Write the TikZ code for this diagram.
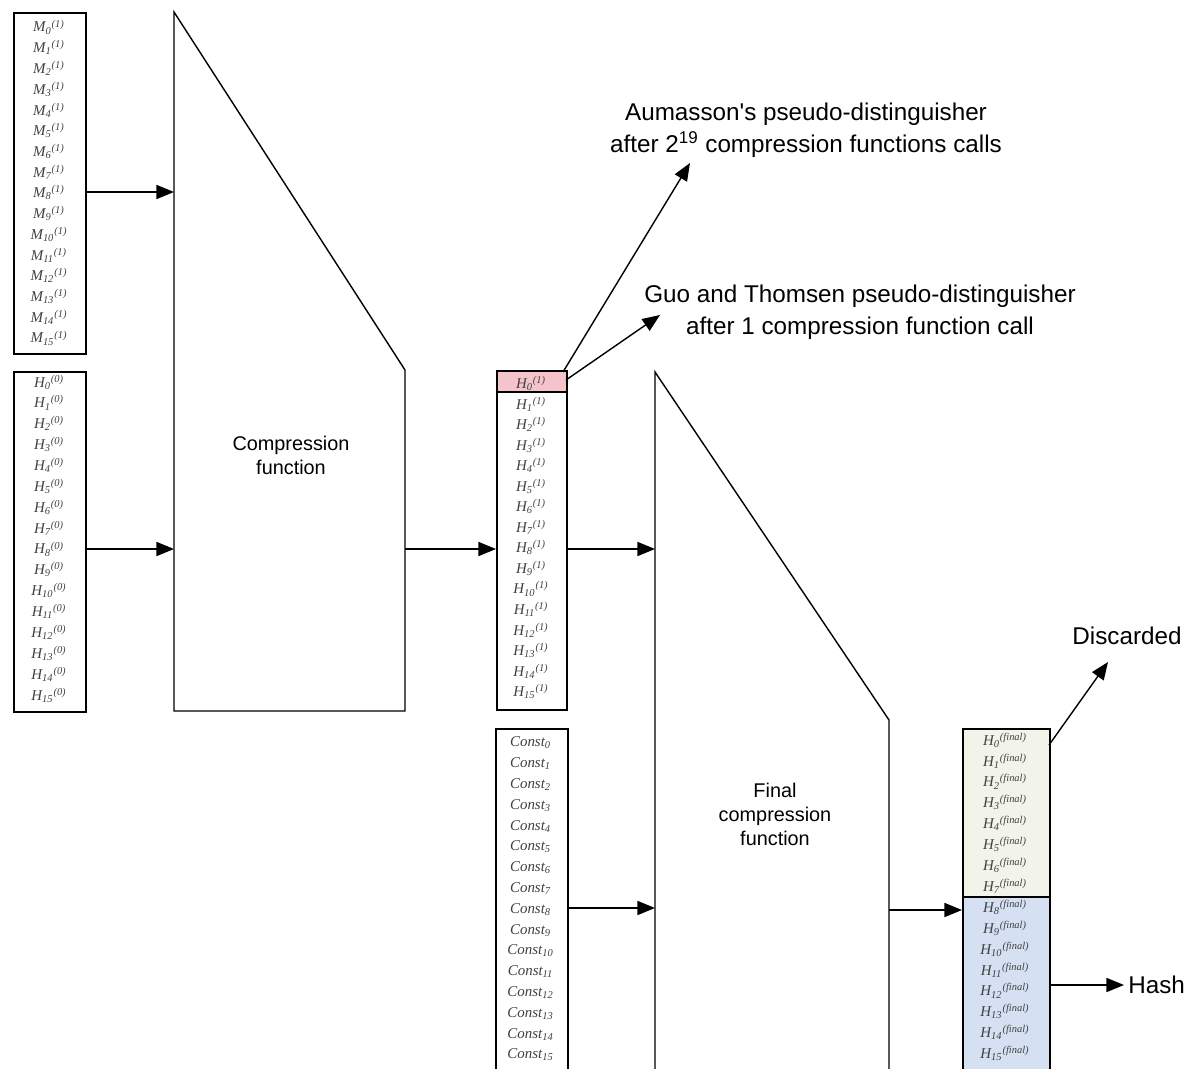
\documentclass[tikz,border=0pt]{standalone}
\usepackage{fontspec}
\setmainfont{Liberation Serif}
\newfontfamily\labelfont{Liberation Sans}
\usetikzlibrary{arrows.meta}

\definecolor{hpink}{HTML}{F4C4CA}
\definecolor{hkeep}{HTML}{D5E1F2}
\definecolor{hdrop}{HTML}{F2F4EA}

\newcommand{\regcell}[3]{#1\textsubscript{#2}\textsuperscript{#3}}

\tikzset{
	regbox/.style={draw, line width=1pt, inner sep=0pt, anchor=north west},
	cell/.style={font=\fontsize{8.5}{9}\selectfont\itshape, inner sep=0pt, text=black!75},
	lbl/.style={font=\labelfont\fontsize{13.8}{18.5}\selectfont, align=center, inner sep=0pt},
	fnlbl/.style={font=\labelfont\fontsize{11.3}{13.6}\selectfont, align=center, inner sep=0pt},
	flow/.style={-{Triangle[length=10pt,width=8pt]}, line width=0.8pt},
	trap/.style={line width=0.8pt}
}

\begin{document}
\begin{tikzpicture}[x=0.02cm, y=-0.02cm]
	\clip (0,0) rectangle (1189,1068);

	% register boxes
	\node[regbox, minimum width=1.44cm, minimum height=6.82cm] (M) at (13,12) {};
	\node[regbox, minimum width=1.44cm, minimum height=6.80cm] (H) at (13,371) {};
	\fill[hpink] (496,370) rectangle (566,392);
	\draw[line width=1pt] (496,392) -- (566,392);
	\node[regbox, minimum width=1.40cm, minimum height=6.78cm] (H1) at (496,370) {};
	\node[regbox, minimum width=1.44cm, minimum height=7.2cm] (C) at (495,728) {};
	\fill[hdrop] (962,728) rectangle (1049,897);
	\fill[hkeep] (962,897) rectangle (1049,1080);
	\draw[line width=1pt] (962,897) -- (1049,897);
	\node[regbox, minimum width=1.74cm, minimum height=7.2cm] (F) at (962,728) {};

	% register contents
	\foreach \i in {0,...,15} {
		\node[cell] (m\i) at (49,27+\i*20.73) {\regcell{M}{\i}{(1)}};
		\node[cell] (h\i) at (49,382+\i*20.87) {\regcell{H}{\i}{(0)}};
		\node[cell] (ha\i) at (531,383.5+\i*20.54) {\regcell{H}{\i}{(1)}};
		\node[cell] (c\i) at (531,743+\i*20.8) {\regcell{Const}{\i}{}};
		\node[cell] (f\i) at (1005,740+\i*20.9) {\regcell{H}{\i}{(final)}};
	}

	% compression functions
	\draw[trap] (174,12) -- (174,711) -- (405,711) -- (405,370) -- cycle;
	\node[fnlbl] (cf) at (291,455) {Compression\\function};
	\draw[trap] (655,1080) -- (655,372) -- (889,720) -- (889,1080);
	\node[fnlbl] (ff) at (775,814) {Final\\compression\\function};

	\coordinate (cfm) at (174,192);
	\coordinate (cfh) at (174,549);
	\coordinate (cfout) at (405,549);
	\coordinate (ffh) at (655,549);
	\coordinate (ffc) at (655,908);
	\coordinate (ffout) at (889,910);

	\draw[flow] (M.east |- cfm) -- (cfm);
	\draw[flow] (H.east |- cfh) -- (cfh);
	\draw[flow] (cfout) -- (cfout -| H1.west);
	\draw[flow] (H1.east |- ffh) -- (ffh);
	\draw[flow] (C.east |- ffc) -- (ffc);
	\draw[flow] (ffout) -- (ffout -| F.west);

	% outputs and attacks
	\node[lbl] (aum) at (806,130) {Aumasson's pseudo-distinguisher\\after 2\textsuperscript{19} compression functions calls};
	\node[lbl] (guo) at (860,312) {Guo and Thomsen pseudo-distinguisher\\after 1 compression function call};
	\node[lbl] (disc) at (1127,636) {Discarded};
	\node[lbl, anchor=west] (hash) at (1128,985) {Hash};

	\coordinate (aumtip) at (690,163);
	\coordinate (guotip) at (660,315);
	\coordinate (disctip) at (1108,662);
	\coordinate (fdisc) at (1049,745);

	\draw[flow] (563,372) -- (aumtip);
	\draw[flow] (566,380) -- (guotip);
	\draw[flow] (fdisc) -- (disctip);
	\draw[flow] (F.east |- hash) -- ([xshift=-0.08cm]hash.west);
\end{tikzpicture}
\end{document}
